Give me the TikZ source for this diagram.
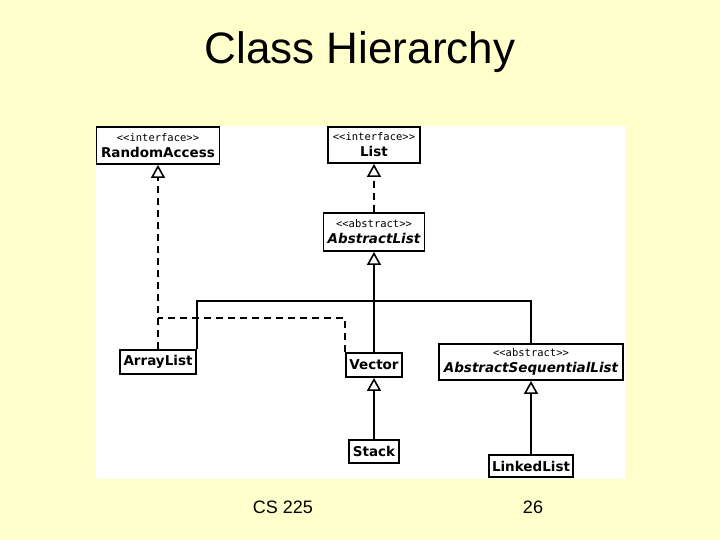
\documentclass[tikz,border=0pt]{standalone}
\usepackage{fontspec}
\setmainfont{DejaVu Sans}
\newfontfamily\slidefont{Liberation Sans}
\newfontfamily\stereofont{DejaVu Sans Mono}
\usepackage{xcolor}
\usetikzlibrary{arrows.meta}

\definecolor{slideyellow}{RGB}{255,255,204}

\tikzset{
    umlbox/.style={draw, line width=1.8pt, fill=white, align=center, inner sep=0pt,
        font=\fontsize{13.5}{16}\selectfont\bfseries},
    realize/.style={line width=2pt, dash pattern=on 7pt off 5pt},
    extend/.style={line width=1.8pt},
    openhead/.style={-{Triangle[width=14pt, length=13pt, fill=white, line width=1.6pt]}}
}
\newcommand{\stereo}[1]{{\stereofont\mdseries\fontsize{10.5}{12}\selectfont #1}}

\begin{document}
\begin{tikzpicture}[x=1pt, y=-1pt]
    % Slide area
    \useasboundingbox (0,0) rectangle (720,540);
    \fill[slideyellow] (0,0) rectangle (720,540);
    \fill[white] (96,126) rectangle (625,479);
    \node[font=\slidefont\fontsize{44}{48}\selectfont] (title) at (360,52) {Class Hierarchy};
    \node[font=\slidefont\fontsize{18}{20}\selectfont] (course) at (283,507) {CS 225};
    \node[font=\slidefont\fontsize{18}{20}\selectfont] (page) at (533,507) {26};

    % Classes
    \node[umlbox, minimum width=123pt, minimum height=37pt] (randomaccess) at (158,145.5) {\stereo{<<interface>>}\\RandomAccess};
    \node[umlbox, minimum width=92pt, minimum height=36pt] (list) at (374,145) {\stereo{<<interface>>}\\List};
    \node[umlbox, minimum width=101pt, minimum height=38pt] (abstractlist) at (374,232) {\stereo{<<abstract>>}\\\itshape AbstractList};
    \node[umlbox, minimum width=76pt, minimum height=24pt] (arraylist) at (158,362) {ArrayList};
    \node[umlbox, minimum width=56pt, minimum height=24pt] (vector) at (374,365) {Vector};
    \node[umlbox, minimum width=184pt, minimum height=36pt] (abstractseqlist) at (531,362) {\stereo{<<abstract>>}\\\itshape AbstractSequentialList};
    \node[umlbox, minimum width=50pt, minimum height=23pt] (stack) at (374,451.5) {Stack};
    \node[umlbox, minimum width=84pt, minimum height=22pt] (linkedlist) at (531,466) {LinkedList};

    % Junctions
    \coordinate (bus) at (374,301);
    \coordinate (ifacejoin) at (158,318);

    % Interfaces
    \draw[realize, openhead] (arraylist.north) -- (randomaccess.south);
    \draw[realize] (vector.north west) |- (ifacejoin);
    \draw[realize, openhead] (abstractlist.north) -- (list.south);

    % Subclasses
    \draw[extend, openhead] (vector.north) -- (abstractlist.south);
    \draw[extend] (arraylist.north east) |- (bus);
    \draw[extend] (abstractseqlist.north) |- (bus);
    \draw[extend, openhead] (stack.north) -- (vector.south);
    \draw[extend, openhead] (linkedlist.north) -- (abstractseqlist.south);

\end{tikzpicture}
\end{document}
